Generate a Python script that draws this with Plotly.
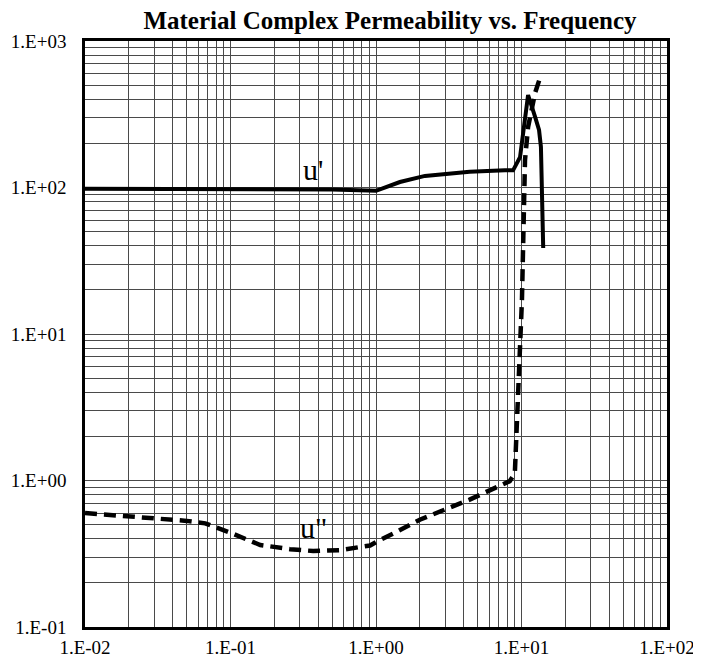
import plotly.graph_objects as go
import math

# u' (real part) series
freq_re = [0.01, 0.1, 0.5, 1.0, 1.46, 2.17, 4.4, 7.7, 8.75, 9.77, 10.57, 11.1, 12.4, 13.2, 13.6, 14.1]
mu_re = [98, 97.5, 97, 95, 109, 120, 128, 131, 131, 161, 303, 428, 303, 247, 189, 38.6]

# u'' (imaginary part) series
freq_im = [0.01, 0.028, 0.05, 0.067, 0.1, 0.16, 0.256, 0.37, 0.57, 0.91, 1.0, 1.35, 2.0, 4.4, 8.3, 9.0, 10.07, 10.57, 11.1, 12.4, 13.6]
mu_im = [0.60, 0.56, 0.53, 0.51, 0.44, 0.363, 0.34, 0.33, 0.335, 0.36, 0.38, 0.44, 0.54, 0.74, 0.99, 1.12, 17, 154, 259, 442, 586]

x_decades = [0.01, 0.1, 1, 10, 100]
x_labels = ["1.E-02", "1.E-01", "1.E+00", "1.E+01", "1.E+02"]
y_decades = [0.1, 1, 10, 100, 1000]
y_labels = ["1.E-01", "1.E+00", "1.E+01", "1.E+02", "1.E+03"]

title_text = "Material Complex Permeability vs. Frequency"


def log_ticks(decades, labels):
    vals, texts = [], []
    for i, d in enumerate(decades):
        vals.append(d)
        texts.append(labels[i])
        if i < len(decades) - 1:
            for m in range(2, 10):
                vals.append(d * m)
                texts.append("")
    return vals, texts


xv, xt = log_ticks(x_decades, x_labels)
yv, yt = log_ticks(y_decades, y_labels)

fig = go.Figure()
fig.add_trace(go.Scatter(x=freq_re, y=mu_re, mode="lines",
                         line=dict(color="black", width=4), name="u'"))
fig.add_trace(go.Scatter(x=freq_im, y=mu_im, mode="lines",
                         line=dict(color="black", width=4.5, dash="12px,7px"), name='u"'))

tick_font = dict(family="Liberation Serif", size=19, color="black")

fig.update_layout(
    width=701, height=661,
    margin=dict(l=77, r=42, t=33, b=42),
    paper_bgcolor="white", plot_bgcolor="white",
    showlegend=False,
    title=dict(text="<b>" + title_text + "</b>", x=0.545, xanchor="center",
               y=0.981, yanchor="middle",
               font=dict(family="Liberation Serif", size=25, color="black")),
    xaxis=dict(type="log", range=[-2, 2], tickvals=xv, ticktext=xt,
               showgrid=True, gridcolor="#4a4a4a", gridwidth=1, automargin=False,
               showline=True, linecolor="black", linewidth=2.5, mirror=True,
               ticks="", tickfont=tick_font, ticklabelstandoff=1, zeroline=False),
    yaxis=dict(type="log", range=[-1, 3], tickvals=yv, ticktext=yt,
               showgrid=True, gridcolor="#4a4a4a", gridwidth=1, automargin=False,
               showline=True, linecolor="black", linewidth=2.5, mirror=True,
               ticks="", tickfont=tick_font, ticklabelstandoff=12, zeroline=False),
    annotations=[
        dict(x=math.log10(0.37), y=math.log10(132), xref="x", yref="y", text="u'",
             showarrow=False, font=dict(family="Liberation Serif", size=30, color="black")),
        dict(x=math.log10(0.37), y=math.log10(0.48), xref="x", yref="y", text='u"',
             showarrow=False, font=dict(family="Liberation Serif", size=30, color="black")),
    ],
)

fig.write_html("out.html")
